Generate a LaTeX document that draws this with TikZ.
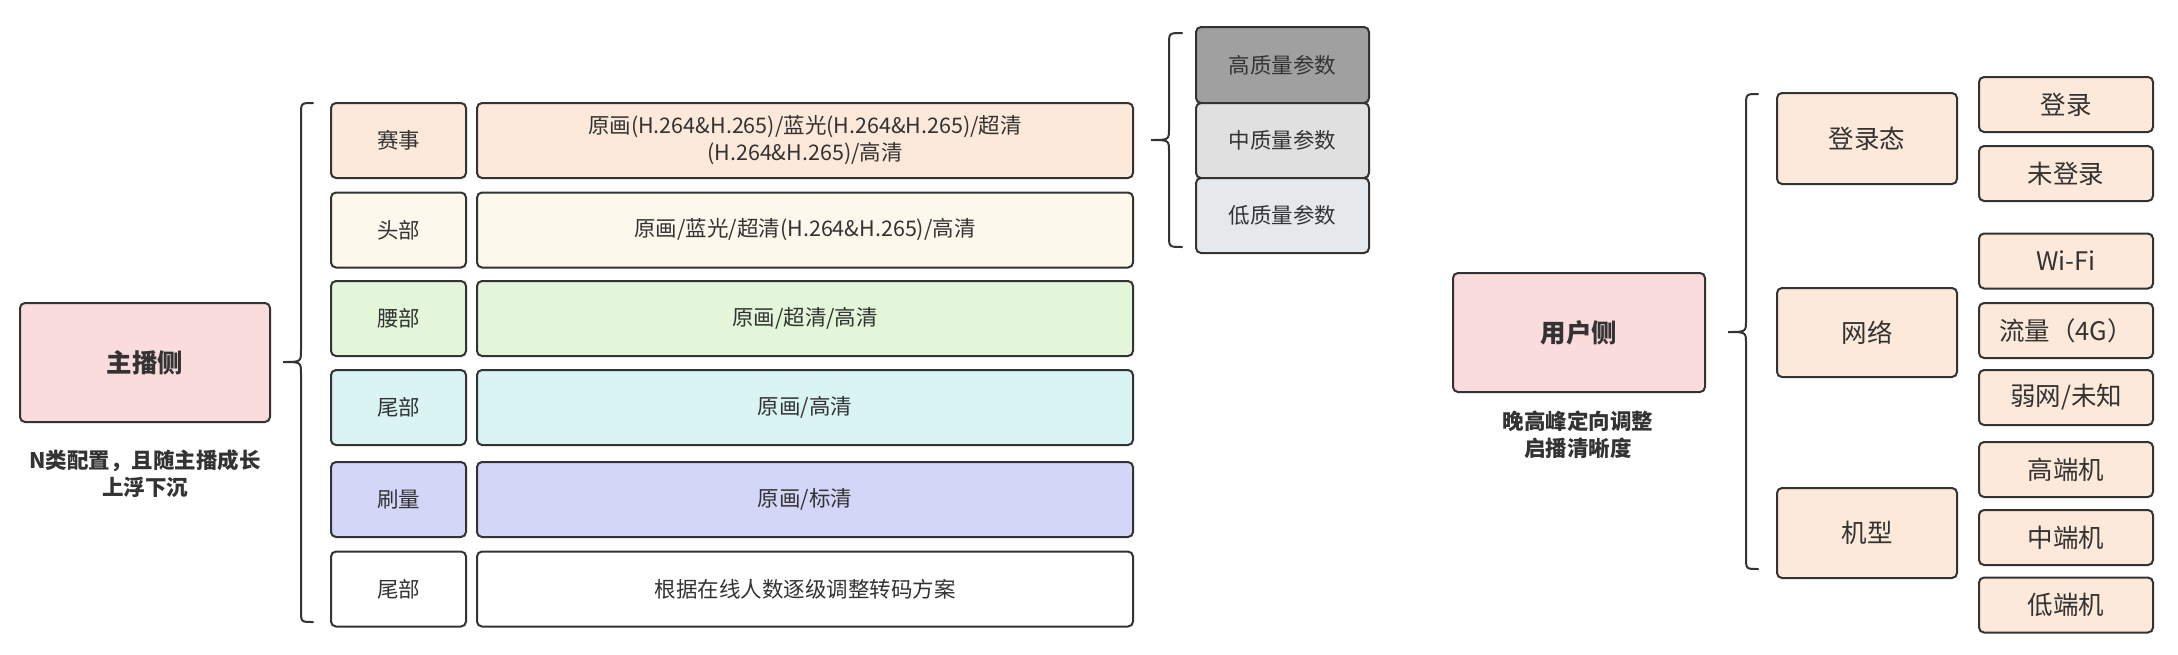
\documentclass[tikz,border=0pt]{standalone}
\usepackage{fontspec}
\setmainfont{Noto Sans CJK SC}
\definecolor{ln}{HTML}{333333}
\definecolor{txt}{HTML}{333333}
\definecolor{pinkf}{HTML}{F9DCDB}
\definecolor{peach}{HTML}{FCE9DA}
\definecolor{cream}{HTML}{FDF8EC}
\definecolor{lgreen}{HTML}{E3F6DA}
\definecolor{lcyan}{HTML}{DAF4F3}
\definecolor{lav}{HTML}{D4D6F7}
\definecolor{qhigh}{HTML}{A0A0A0}
\definecolor{qmid}{HTML}{E0E0E0}
\definecolor{qlow}{HTML}{E6E9EC}
\tikzset{
  box/.style={draw=ln, line width=2pt, rounded corners=5pt, inner sep=0pt, outer sep=0pt,
    text=txt, align=center, font=\fontsize{21.5}{27}\selectfont},
  bigtxt/.style={font=\fontsize{25.5}{30}\selectfont},
  caption/.style={text=txt, align=center, inner sep=0pt, font=\fontsize{21.5}{27.5}\selectfont\bfseries},
  bracepath/.style={draw=ln, line width=2pt, line cap=round}
}
\begin{document}
\begin{tikzpicture}[x=1pt,y=-1pt]
\useasboundingbox (0,0) rectangle (2178,654);

% left main
\node[box, bigtxt, fill=pinkf, minimum width=250pt, minimum height=119pt, font=\fontsize{25.5}{30}\selectfont\bfseries] (host) at (145,362.5) {主播侧};
\node[caption] (hostcap) at (145,473.5) {N类配置，且随主播成长\\上浮下沉};

% rows
\node[box, fill=peach, minimum width=135pt, minimum height=75pt] (r1a) at (398.5,140.5) {赛事};
\node[box, fill=peach, minimum width=656pt, minimum height=75pt] (r1b) at (805,140.5) {原画(H.264\&H.265)/蓝光(H.264\&H.265)/超清\\(H.264\&H.265)/高清};
\node[box, fill=cream, minimum width=135pt, minimum height=75pt] (r2a) at (398.5,230) {头部};
\node[box, fill=cream, minimum width=656pt, minimum height=75pt] (r2b) at (805,230) {原画/蓝光/超清(H.264\&H.265)/高清};
\node[box, fill=lgreen, minimum width=135pt, minimum height=75pt] (r3a) at (398.5,318.5) {腰部};
\node[box, fill=lgreen, minimum width=656pt, minimum height=75pt] (r3b) at (805,318.5) {原画/超清/高清};
\node[box, fill=lcyan, minimum width=135pt, minimum height=75pt] (r4a) at (398.5,407.5) {尾部};
\node[box, fill=lcyan, minimum width=656pt, minimum height=75pt] (r4b) at (805,407.5) {原画/高清};
\node[box, fill=lav, minimum width=135pt, minimum height=75pt] (r5a) at (398.5,499.5) {刷量};
\node[box, fill=lav, minimum width=656pt, minimum height=75pt] (r5b) at (805,499.5) {原画/标清};
\node[box, fill=white, minimum width=135pt, minimum height=75pt] (r6a) at (398.5,589) {尾部};
\node[box, fill=white, minimum width=656pt, minimum height=75pt] (r6b) at (805,589) {根据在线人数逐级调整转码方案};

% quality
\node[box, fill=qhigh, minimum width=173pt, minimum height=76pt] (q1) at (1282.5,65) {高质量参数};
\node[box, fill=qmid, minimum width=173pt, minimum height=75pt] (q2) at (1282.5,140.5) {中质量参数};
\node[box, fill=qlow, minimum width=173pt, minimum height=75pt] (q3) at (1282.5,215.5) {低质量参数};

% braces left
\draw[bracepath] (313,103) .. controls (301,103) .. (301,115) -- (301,350) .. controls (301,362) .. (283,362)
  .. controls (301,362) .. (301,374) -- (301,610) .. controls (301,622) .. (313,622);
\draw[bracepath] (1182,33) .. controls (1169,33) .. (1169,45) -- (1169,128) .. controls (1169,140) .. (1151,140)
  .. controls (1169,140) .. (1169,152) -- (1169,235) .. controls (1169,247) .. (1182,247);

% right side
\node[box, fill=pinkf, minimum width=252pt, minimum height=119pt, font=\fontsize{25.5}{30}\selectfont\bfseries] (user) at (1579,332.5) {用户侧};
\node[caption] (usercap) at (1578,434.5) {晚高峰定向调整\\启播清晰度};

\draw[bracepath] (1758,94) .. controls (1746,94) .. (1746,106) -- (1746,320) .. controls (1746,332) .. (1728,332)
  .. controls (1746,332) .. (1746,344) -- (1746,557) .. controls (1746,569) .. (1758,569);

\node[box, bigtxt, fill=peach, minimum width=180pt, minimum height=91pt] (login) at (1867,138.5) {登录态};
\node[box, bigtxt, fill=peach, minimum width=180pt, minimum height=89pt] (net) at (1867,332.5) {网络};
\node[box, bigtxt, fill=peach, minimum width=180pt, minimum height=90pt] (dev) at (1867,533) {机型};

\node[box, bigtxt, fill=peach, minimum width=174pt, minimum height=55pt] (c1) at (2066,104.5) {登录};
\node[box, bigtxt, fill=peach, minimum width=174pt, minimum height=55pt] (c2) at (2066,173.5) {未登录};
\node[box, bigtxt, fill=peach, minimum width=174pt, minimum height=55pt] (c3) at (2066,261) {Wi-Fi};
\node[box, bigtxt, fill=peach, minimum width=174pt, minimum height=55pt] (c4) at (2066,330.5) {流量（4G）};
\node[box, bigtxt, fill=peach, minimum width=174pt, minimum height=55pt] (c5) at (2066,397.5) {弱网/未知};
\node[box, bigtxt, fill=peach, minimum width=174pt, minimum height=55pt] (c6) at (2066,469.5) {高端机};
\node[box, bigtxt, fill=peach, minimum width=174pt, minimum height=55pt] (c7) at (2066,537.5) {中端机};
\node[box, bigtxt, fill=peach, minimum width=174pt, minimum height=55pt] (c8) at (2066,605) {低端机};
\end{tikzpicture}
\end{document}
